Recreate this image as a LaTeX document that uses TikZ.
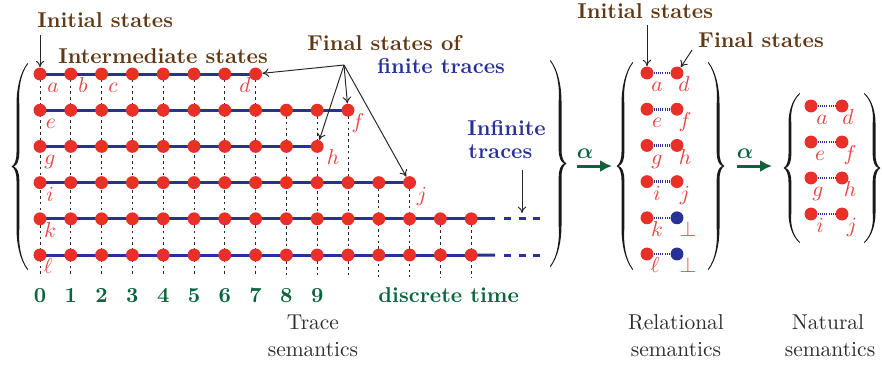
\documentclass[tikz,border=0pt]{standalone}
\usepackage{bm}
\usetikzlibrary{arrows.meta}
\definecolor{tbrown}{RGB}{96,56,20}
\definecolor{tblue}{RGB}{40,50,150}
\definecolor{dotred}{RGB}{232,48,40}
\definecolor{labred}{RGB}{236,64,64}
\definecolor{tgreen}{RGB}{10,100,60}
\definecolor{capgray}{RGB}{45,45,45}
\definecolor{bracecol}{RGB}{25,25,25}
\pgfdeclarelayer{bg}\pgfsetlayers{bg,main}
% tip x, centre y, half height, direction (1 = left brace, -1 = right brace)
\newcommand{\drawbrace}[4]{%
\begin{scope}[shift={(#1,#2)},xscale=#4]
\pgfmathsetmacro\bh{#3}
\fill[bracecol] (15.5,-\bh) .. controls (7.5,{-\bh+0.1*\bh}) and (4.5,{-\bh+0.26*\bh}) .. (4.5,{-\bh+0.4*\bh})
  -- (4.5,-14) .. controls (4.5,-6) and (2.5,-1.5) .. (-0.5,0)
  .. controls (2.5,1.5) and (4.5,6) .. (4.5,14)
  -- (4.5,{\bh-0.4*\bh}) .. controls (4.5,{\bh-0.26*\bh}) and (7.5,{\bh-0.1*\bh}) .. (15.5,\bh)
  -- (16,{\bh-0.9}) .. controls (8.6,{\bh-0.1*\bh}) and (6.2,{\bh-0.26*\bh}) .. (7.3,{\bh-0.4*\bh})
  -- (7.3,14) .. controls (7.3,6) and (5.3,1.5) .. (1.8,0)
  .. controls (5.3,-1.5) and (7.3,-6) .. (7.3,-14)
  -- (7.3,{-\bh+0.4*\bh}) .. controls (6.2,{-\bh+0.26*\bh}) and (8.6,{-\bh+0.1*\bh}) .. (16,{-\bh+0.9}) -- cycle;
\end{scope}}
\tikzset{
  dotn/.style={circle,fill=dotred,inner sep=0pt,minimum size=6pt},
  bdotn/.style={dotn,fill=tblue},
  traceline/.style={draw=tblue,line width=1.4pt},
  infdash/.style={draw=tblue,line width=1.4pt,dash pattern=on 3.25pt off 3.5pt},
  vdash/.style={draw=black!85,line width=0.4pt,dash pattern=on 1.2pt off 1.5pt},
  reldots/.style={draw=tblue,line width=1.2pt,dash pattern=on 0.45pt off 0.55pt},
  lab/.style={text=labred,anchor=base,inner sep=0pt},
  ttl/.style={text=tbrown,font=\bfseries,anchor=base west,inner sep=0pt},
  btl/.style={text=tblue,font=\bfseries,anchor=base west,inner sep=0pt},
  timelab/.style={text=tgreen,font=\bfseries,anchor=base,inner sep=0pt},
  captext/.style={text=capgray,anchor=base,inner sep=0pt},
  thinarrow/.style={-{To[length=3pt,width=4pt]},line width=0.45pt,black!85},
  alphaarrow/.style={-{Latex[length=5.5pt,width=5.5pt]},line width=1.4pt,tgreen},
}
\begin{document}
\begin{tikzpicture}[x=0.4651pt,y=-0.4651pt]
\useasboundingbox (0,0) rectangle (882,370);

% ---------------- trace semantics ----------------
\foreach \r/\last in {0/7,1/10,2/9,3/12,4/14,5/14}{
  \foreach \c in {0,...,\last}{
    \node[dotn] (d-\r-\c) at ({40+30.8*\c},{74+36.2*\r}) {};
  }
  \begin{pgfonlayer}{bg}
    \draw[traceline] (d-\r-0.center) -- (d-\r-\last.center);
  \end{pgfonlayer}
}
% infinite continuations
\coordinate (e4) at (495,218.8);
\coordinate (e5) at (495,255);
\coordinate (s4) at (504,218.8);
\coordinate (s5) at (504,255);
\coordinate (f4) at (541,218.8);
\coordinate (f5) at (541,255);
\begin{pgfonlayer}{bg}
  \draw[traceline] (d-4-14.center) -- (e4);
  \draw[traceline] (d-5-14.center) -- (e5);
\end{pgfonlayer}
\draw[infdash] (s4) -- (f4);
\draw[infdash] (s5) -- (f5);

% vertical dashed time lines
\foreach \c/\r in {0/0,1/0,2/0,3/0,4/0,5/0,6/0,7/0,8/1,9/1,10/1,11/3,12/3,13/4,14/4}{
  \coordinate (vb-\c) at ({40+30.8*\c},277);
  \begin{pgfonlayer}{bg}
    \draw[vdash] (d-\r-\c.center) -- (vb-\c);
  \end{pgfonlayer}
}

% time labels
\foreach \c in {0,...,9}{
  \node[timelab] (t-\c) at ({40+30.8*\c},302) {\c};
}
\node[timelab,anchor=base west] (dtime) at (378,302) {discrete time};

% state labels
\node[lab] (la) at (53,92) {$a$};
\node[lab] (lb) at (83,92) {$b$};
\node[lab] (lc) at (113,92) {$c$};
\node[lab] (ld) at (245,92) {$d$};
\node[lab] (le) at (51,128) {$e$};
\node[lab] (lf) at (358,128) {$f$};
\node[lab] (lg) at (50,164) {$g$};
\node[lab] (lh) at (333,164) {$h$};
\node[lab] (li) at (50,201) {$i$};
\node[lab] (lj) at (422,201) {$j$};
\node[lab] (lk) at (50,237) {$k$};
\node[lab] (ll) at (48,273) {$\ell$};

% titles
\node[ttl] (tinit) at (37,27) {Initial states};
\coordinate (ainit) at (40,35);
\draw[thinarrow] (ainit) -- (d-0-0);
\node[ttl] (tinter) at (58,63) {Intermediate states};
\node[ttl] (tfinal) at (307,50) {Final states of};
\node[btl] (tfinite) at (377,73) {finite traces};
\coordinate (fo) at (344,65);
\draw[thinarrow] (fo) -- (d-0-7);
\draw[thinarrow] (fo) -- (d-1-10);
\draw[thinarrow] (fo) -- (d-2-9);
\draw[thinarrow] (fo) -- (d-3-12);
\node[btl] (tinf1) at (467,135) {Infinite};
\node[btl] (tinf2) at (468,158) {traces};
\coordinate (ia) at (522,170);
\coordinate (ib) at (522,213);
\draw[thinarrow] (ia) -- (ib);

% braces
\drawbrace{12}{166.5}{103.5}{1}
\drawbrace{566}{163.5}{103.5}{-1}

\node[captext] (cT1) at (313,329) {Trace};
\node[captext] (cT2) at (313,356) {semantics};

% ---------------- alpha 1 ----------------
\node[text=tgreen,anchor=base,inner sep=0pt] (al1) at (585,158) {$\bm{\alpha}$};
\coordinate (a1s) at (577,166);
\coordinate (a1e) at (612,166);
\draw[alphaarrow] (a1s) -- (a1e);

% ---------------- relational semantics ----------------
\foreach \i in {0,...,3}{
  \node[dotn] (r-\i-0) at (647,{73+36.2*\i}) {};
  \node[dotn] (r-\i-1) at (677,{73+36.2*\i}) {};
  \draw[reldots] (r-\i-0) -- (r-\i-1);
}
\foreach \i in {4,5}{
  \node[dotn] (r-\i-0) at (647,{73+36.2*\i}) {};
  \node[bdotn] (r-\i-1) at (677,{73+36.2*\i}) {};
  \draw[reldots] (r-\i-0) -- (r-\i-1);
}
\node[lab] (ra) at (657,91) {$a$};
\node[lab] (rd) at (684,91) {$d$};
\node[lab] (re) at (657,127) {$e$};
\node[lab] (rf) at (685,127) {$f$};
\node[lab] (rg) at (657,164) {$g$};
\node[lab] (rh) at (685,164) {$h$};
\node[lab] (ri) at (657,200) {$i$};
\node[lab] (rj) at (685,200) {$j$};
\node[lab] (rk) at (657,236) {$k$};
\node[lab] (rbot1) at (688,236) {$\bot$};
\node[lab] (rl) at (655,272) {$\ell$};
\node[lab] (rbot2) at (688,272) {$\bot$};

\node[ttl] (rinit) at (577,18) {Initial states};
\coordinate (rai) at (647,25);
\draw[thinarrow] (rai) -- (r-0-0);
\node[ttl] (rfin) at (698,47) {Final states};
\coordinate (raf) at (692,50);
\draw[thinarrow] (raf) -- (r-0-1);

\drawbrace{617}{166}{104}{1}
\drawbrace{724}{166}{104}{-1}

\node[captext] (cR1) at (676,329) {Relational};
\node[captext] (cR2) at (676,356) {semantics};

% ---------------- alpha 2 ----------------
\node[text=tgreen,anchor=base,inner sep=0pt] (al2) at (745,158) {$\bm{\alpha}$};
\coordinate (a2s) at (737,166);
\coordinate (a2e) at (772,166);
\draw[alphaarrow] (a2s) -- (a2e);

% ---------------- natural semantics ----------------
\foreach \i in {0,...,3}{
  \node[dotn] (n-\i-0) at (811,{106+36*\i}) {};
  \node[dotn] (n-\i-1) at (842,{106+36*\i}) {};
  \draw[reldots] (n-\i-0) -- (n-\i-1);
}
\node[lab] (na) at (822,124) {$a$};
\node[lab] (nd) at (848,124) {$d$};
\node[lab] (ne) at (820,160) {$e$};
\node[lab] (nf) at (850,160) {$f$};
\node[lab] (ng) at (818,196) {$g$};
\node[lab] (nh) at (850,196) {$h$};
\node[lab] (ni) at (820,232) {$i$};
\node[lab] (nj) at (852,232) {$j$};

\drawbrace{784}{168}{75}{1}
\drawbrace{880}{168}{75}{-1}

\node[captext] (cN1) at (828,329) {Natural};
\node[captext] (cN2) at (830,356) {semantics};
\end{tikzpicture}
\end{document}
